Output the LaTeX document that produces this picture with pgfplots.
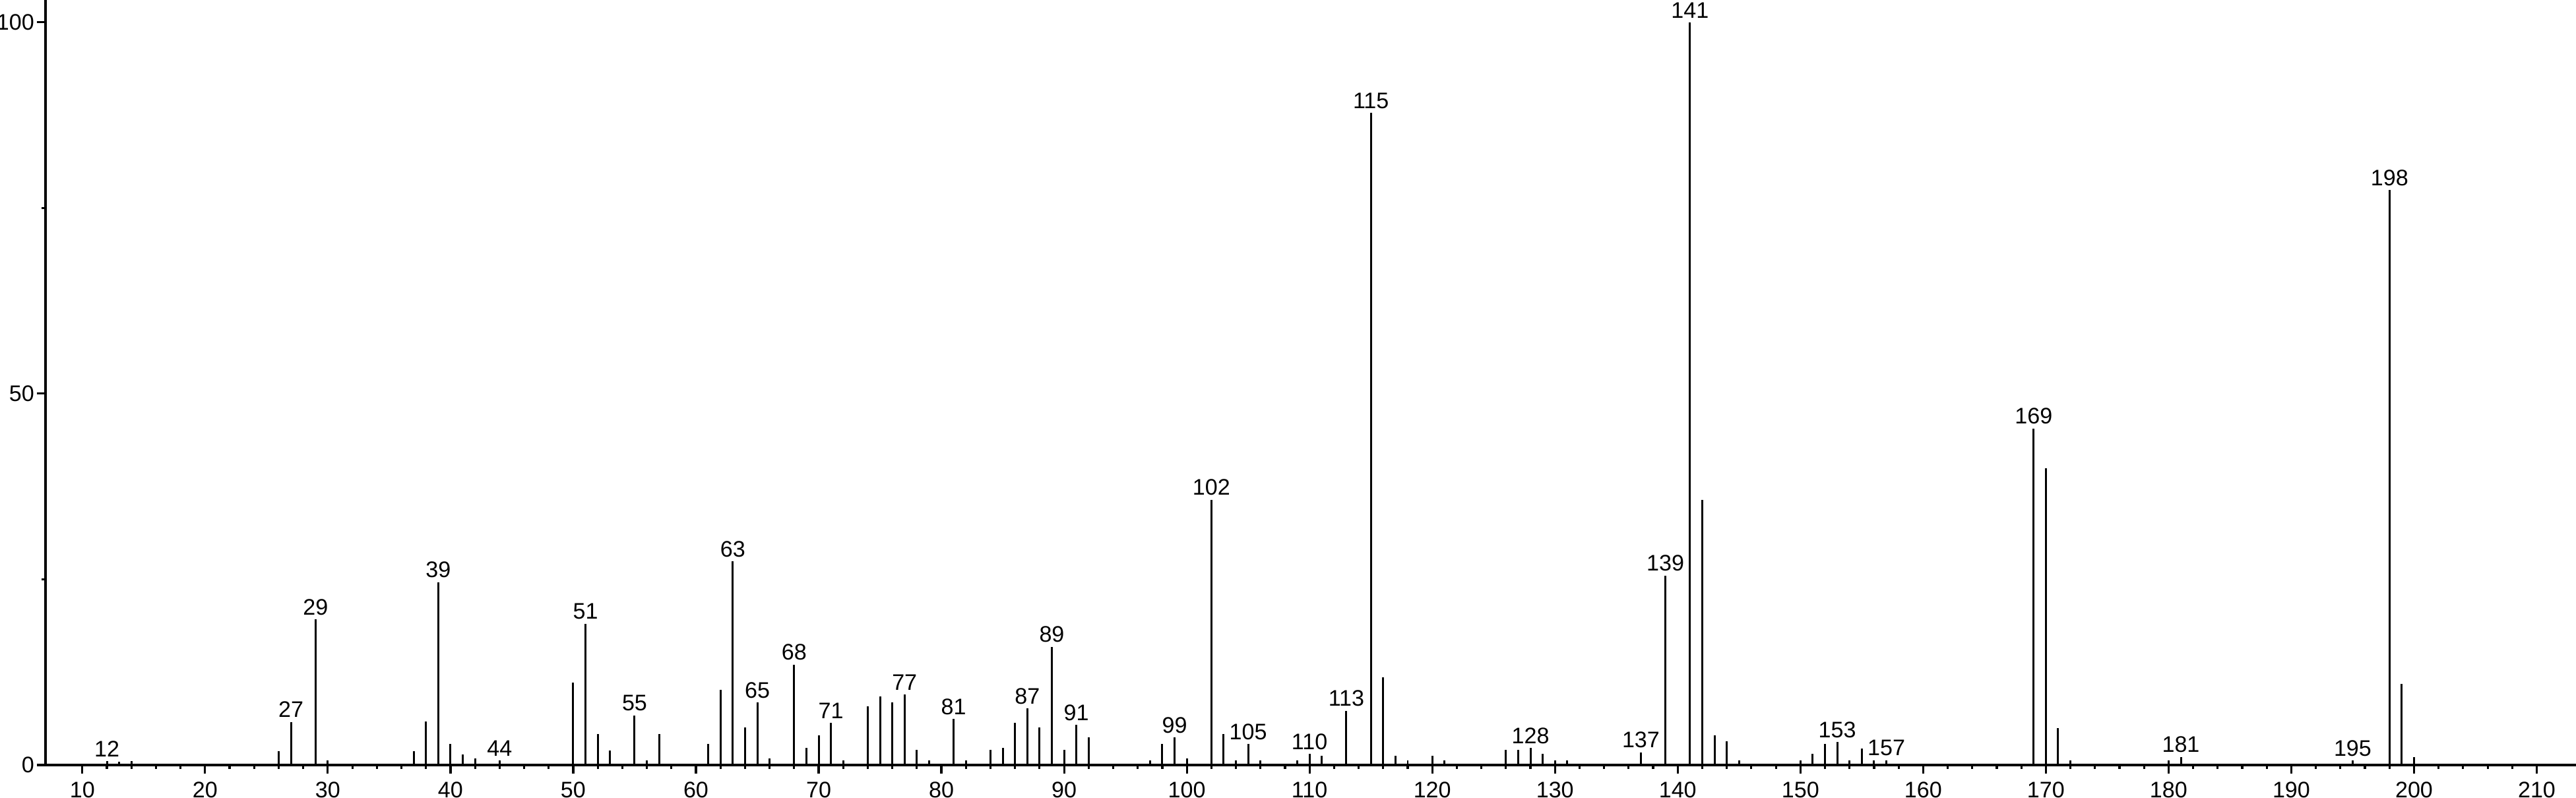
\documentclass[border=0pt]{standalone}
\usepackage{fontspec}
\setmainfont{Liberation Sans}
\usepackage{pgfplots}
\pgfplotsset{compat=1.18}
\begin{document}
\begin{tikzpicture}
\begin{axis}[
    scale only axis,
    width=383.6mm, height=116mm,
    xmin=7, xmax=213.2, ymin=0, ymax=103,
    axis x line=bottom, axis y line=left,
    axis line style={-, line width=1pt, black},
    xtick={10,20,...,210}, minor x tick num=4,
    ytick={0,50,100}, minor y tick num=1,
    tick align=outside,
    tick style={line width=0.9pt, black},
    major tick length=1.3mm, minor tick length=0.6mm,
    tick label style={font=\fontsize{9.7}{11}\selectfont},
    /pgf/number format/assume math mode=true,
    yticklabel style={inner sep=1pt},
    clip=false,
]
% all peaks (m/z, relative intensity)
\addplot[ycomb, black, line width=0.85pt, mark=none] coordinates {
    (12,0.55) (13,0.45) (14,0.55) (26,1.9) (27,5.8) (29,19.6) (30,0.6)
    (37,1.9) (38,5.9) (39,24.6) (40,2.8) (41,1.4) (42,0.9) (44,0.6)
    (50,11.1) (51,19.0) (52,4.2) (53,1.95) (55,6.7) (56,0.65) (57,4.2)
    (61,2.8) (62,10.1) (63,27.4) (64,5.1) (65,8.4) (66,0.9) (68,13.5)
    (69,2.3) (70,4.0) (71,5.7) (72,0.65) (74,7.9) (75,9.2) (76,8.4)
    (77,9.5) (78,2.0) (79,0.65) (81,6.2) (82,0.65) (84,2.0) (85,2.3)
    (86,5.7) (87,7.6) (88,5.1) (89,15.9) (90,2.0) (91,5.4) (92,3.7)
    (97,0.65) (98,2.8) (99,3.7) (100,0.9) (102,35.7) (103,4.2) (104,0.65)
    (105,2.8) (106,0.65) (109,0.65) (110,1.5) (111,1.2) (113,7.3)
    (115,87.8) (116,11.8) (117,1.2) (118,0.65) (120,1.2) (121,0.65)
    (126,2.0) (127,2.0) (128,2.3) (129,1.5) (130,0.65) (131,0.65)
    (137,1.7) (139,25.5) (141,100) (142,35.7) (143,4.0) (144,3.2)
    (145,0.65) (150,0.65) (151,1.5) (152,2.8) (153,3.1) (154,0.65)
    (155,2.2) (156,0.65) (157,0.65) (169,45.3) (170,40.0) (171,5.0)
    (172,0.65) (180,0.65) (181,1.1) (195,0.6) (198,77.4) (199,10.9)
    (200,1.1)
};
% labelled peaks
\addplot[draw=none, mark=none, point meta=x, nodes near coords,
    nodes near coords style={font=\fontsize{9.7}{11}\selectfont,
        anchor=south, inner sep=0pt, yshift=0.6mm}] coordinates {
    (12,0.55) (27,5.8) (29,19.6) (39,24.6) (44,0.6) (51,19.0) (55,6.7)
    (63,27.4) (65,8.4) (68,13.5) (71,5.7) (77,9.5) (81,6.2) (87,7.6)
    (89,15.9) (91,5.4) (99,3.7) (102,35.7) (105,2.8) (110,1.5) (113,7.3)
    (115,87.8) (128,2.3) (137,1.7) (139,25.5) (141,100) (153,3.1)
    (157,0.65) (169,45.3) (181,1.1) (195,0.6) (198,77.4)
};
\end{axis}
\pgfresetboundingbox
\path (current axis.south west) ++(-6.9mm,-4.9mm) rectangle (current axis.north east);
\end{tikzpicture}
\end{document}
